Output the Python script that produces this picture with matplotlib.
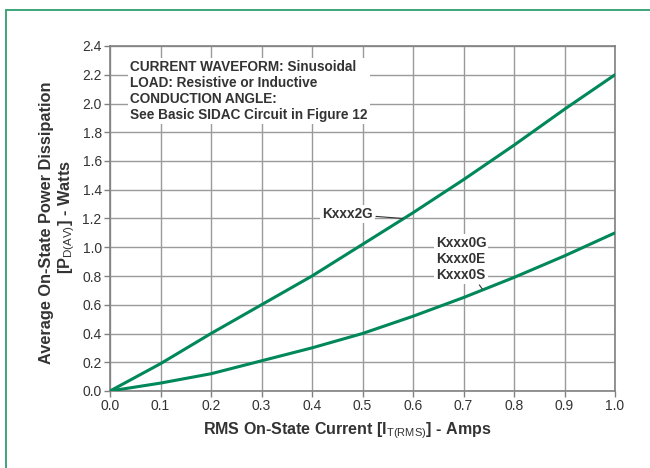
import numpy as np
import matplotlib.pyplot as plt
from matplotlib.patches import Rectangle

plt.rcParams['font.family'] = ['Liberation Sans', 'DejaVu Sans']
plt.rcParams['mathtext.fontset'] = 'custom'
plt.rcParams['mathtext.rm'] = 'Liberation Sans'
plt.rcParams['mathtext.bf'] = 'Liberation Sans:bold'

# data
current = [0.0, 0.1, 0.2, 0.3, 0.4, 0.5, 0.6, 0.7, 0.8, 0.9, 1.0]
p_2g = [0.0, 0.19, 0.40, 0.60, 0.80, 1.02, 1.24, 1.47, 1.71, 1.96, 2.20]
p_0g = [0.0, 0.055, 0.12, 0.21, 0.30, 0.40, 0.52, 0.65, 0.79, 0.94, 1.10]

xticks = np.arange(0, 1.01, 0.1)
yticks = np.arange(0, 2.41, 0.2)

green = '#00875a'
gridc = '#9a9a9a'
txt = '#333333'

fig = plt.figure(figsize=(6.5, 4.68), dpi=100)
ax = fig.add_axes([110/650, 1-391/468, 505/650, 345/468])

# outer green frame (open to right and bottom like the crop)
fig.patches.append(Rectangle((6/650, -0.1), 2.0, 1-10/468+0.1, transform=fig.transFigure,
                             fill=False, edgecolor='#2e9e70', linewidth=1.3, zorder=0))

ax.plot(current, p_2g, color=green, lw=2.2, zorder=3)
ax.plot(current, p_0g, color=green, lw=2.2, zorder=3)

ax.set_xlim(0, 1.0)
ax.set_ylim(0, 2.4)
ax.set_xticks(xticks)
ax.set_yticks(yticks)
ax.set_xticklabels([f'{v:.1f}' for v in xticks])
ax.set_yticklabels([f'{v:.1f}' for v in yticks])
ax.grid(True, color=gridc, lw=1.0)
ax.set_axisbelow(True)
for s in ax.spines.values():
    s.set_color('#808080')
    s.set_linewidth(1.2)
ax.tick_params(length=4, width=1.0, color='#808080', labelsize=10, labelcolor=txt, pad=2)

ax.text(0.04, 2.30, 'CURRENT WAVEFORM: Sinusoidal\nLOAD: Resistive or Inductive\nCONDUCTION ANGLE:\nSee Basic SIDAC Circuit in Figure 12',
        fontsize=9.8, fontweight='bold', color=txt, va='top', ha='left', linespacing=1.18,
        bbox=dict(facecolor='white', edgecolor='none', pad=1.5), zorder=4)

ax.annotate('Kxxx2G', xy=(0.58, 1.2), xytext=(0.52, 1.23), fontsize=9.8, fontweight='bold',
            color=txt, ha='right', va='center',
            bbox=dict(facecolor='white', edgecolor='none', pad=1.5),
            arrowprops=dict(arrowstyle='-', color=txt, lw=0.8, shrinkA=1, shrinkB=0), zorder=4)

ax.annotate('Kxxx0G\nKxxx0E\nKxxx0S', xy=(0.737, 0.71), xytext=(0.695, 0.92), fontsize=9.8,
            fontweight='bold', color=txt, ha='center', va='center', linespacing=1.18,
            bbox=dict(facecolor='white', edgecolor='none', pad=1.5),
            arrowprops=dict(arrowstyle='-', color=txt, lw=0.8, shrinkA=1, shrinkB=0), zorder=4)

fig.text(347/650, 1-431/468, r'RMS On-State Current [I$_{\mathrm{T(RMS)}}$] - Amps',
         ha='center', va='center', fontsize=11.5, fontweight='bold', color=txt)
fig.text(47/650, 1-223/468, 'Average On-State Power Dissipation', rotation=90,
         ha='center', va='center', fontsize=11.8, fontweight='bold', color=txt)
fig.text(67/650, 1-217/468, r'[P$_{\mathrm{D(AV)}}$] - Watts', rotation=90,
         ha='center', va='center', fontsize=11.8, fontweight='bold', color=txt)

fig.savefig('out.png', dpi=100)
